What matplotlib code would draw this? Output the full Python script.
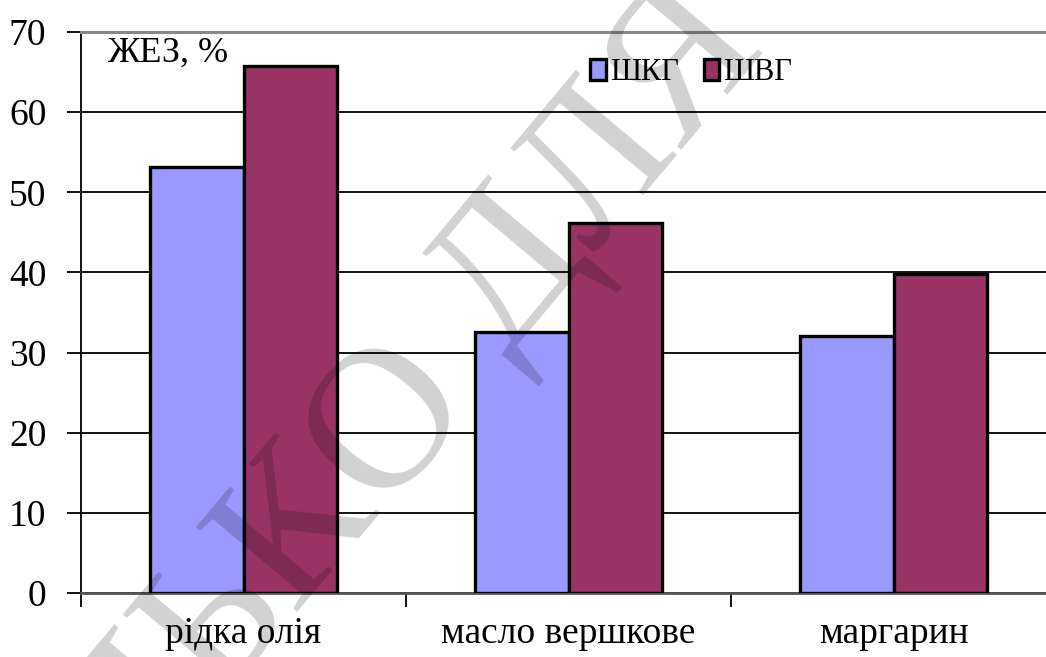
import numpy as np
import matplotlib.pyplot as plt

plt.rcParams['font.family'] = ['Liberation Serif', 'DejaVu Serif']

categories = ['рідка олія', 'масло вершкове', 'маргарин']
shkg = [53.2, 32.6, 32.1]
shvg = [65.7, 46.2, 39.8]
series_names = ['ШКГ', 'ШВГ']
yticks = [0, 10, 20, 30, 40, 50, 60, 70]

fig = plt.figure(figsize=(10.46, 6.57), dpi=100)
ax = fig.add_axes([81/1046, 64/657, 975/1046, 561/657])

x = np.arange(len(categories))
w = 0.2875
ax.bar(x - w/2, shkg, w, color='#9999ff', edgecolor='black', linewidth=2.4, label=series_names[0], zorder=3)
ax.bar(x + w/2, shvg, w, color='#993366', edgecolor='black', linewidth=2.4, label=series_names[1], zorder=3)

ax.set_xlim(-0.5, 2.5)
ax.set_ylim(0, 70)
ax.set_yticks(yticks)
ax.yaxis.grid(True, color='black', linewidth=1.3, zorder=0)
ax.set_axisbelow(True)

ax.set_xticks(x)
ax.set_xticklabels(categories, fontsize=27)
ax.tick_params(axis='x', length=0, pad=17)
ax.set_xticks([-0.5, 0.5, 1.5], minor=True)
ax.tick_params(axis='x', which='minor', length=10, width=1.3, direction='out')
ax.tick_params(axis='y', labelsize=27, length=10, width=1.3, pad=15)

ax.spines['right'].set_visible(False)
ax.spines['top'].set_color('#888888')
ax.spines['top'].set_linewidth(2.2)
ax.spines['left'].set_linewidth(1.3)
ax.spines['bottom'].set_linewidth(2.0)
ax.spines['bottom'].set_color('#555555')

ax.text(0.027, 0.9465, 'ЖЕЗ, %', transform=ax.transAxes, fontsize=26, va='baseline', ha='left')

ax.legend(loc='upper left', bbox_to_anchor=(0.51, 0.975), ncol=2, frameon=False,
          fontsize=22, handlelength=0.5, handleheight=0.7, handletextpad=0.15,
          columnspacing=0.8, borderaxespad=0)

# watermark, centred on the letter О
fs = 145
E = fs * 100 / 72
ang = np.deg2rad(50)
d = np.array([np.cos(ang), -np.sin(ang)])    # along the baseline (pixels, y down)
dn = np.array([np.sin(ang), np.cos(ang)])    # down from the letter centre
base = np.array([374, 410]) + 0.34 * E * dn
left = base - 0.36 * E * d
right = base + 0.36 * E * d
wm = dict(fontsize=fs, color='black', alpha=0.18, rotation=50,
          rotation_mode='anchor', va='baseline', zorder=10)
fig.text(base[0]/1046, 1 - base[1]/657, 'О', ha='center', **wm)
fig.text(left[0]/1046, 1 - left[1]/657, 'ТОЛЬК', ha='right', **wm)
fig.text(right[0]/1046, 1 - right[1]/657, ' ДЛЯ', ha='left', **wm)

fig.savefig('out.png', dpi=100)
